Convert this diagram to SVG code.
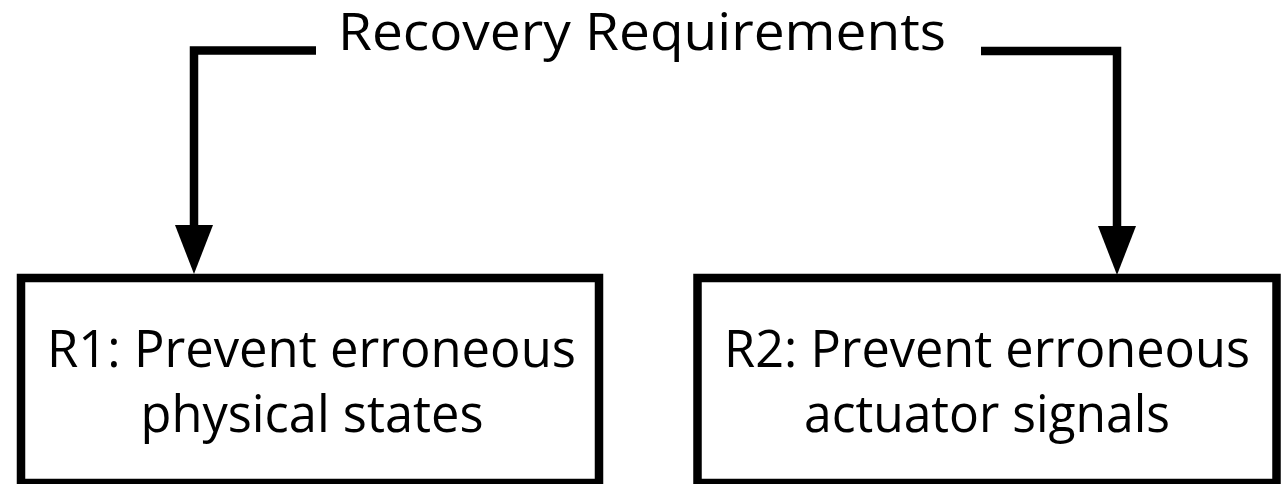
<svg xmlns="http://www.w3.org/2000/svg" width="1281" height="484" viewBox="0 0 1281 484">
<style>
.box{fill:#fff;stroke:#000;stroke-width:8.5}
.con{fill:none;stroke:#000;stroke-width:8.5;stroke-linejoin:miter;stroke-linecap:butt}
.t{font-family:"Open Sans","Noto Sans","Liberation Sans",sans-serif;font-size:51px;fill:#000;text-anchor:middle}
</style>
<defs>
<marker id="ah" markerUnits="userSpaceOnUse" markerWidth="50" markerHeight="40" refX="5" refY="19" orient="auto" viewBox="0 0 50 40">
<path d="M0,0 L49,19 L0,38 Z" fill="#000"/>
</marker>
</defs>
<rect width="1281" height="484" fill="#fff"/>
<g id="title">
<text class="t" x="642" y="50" textLength="608" lengthAdjust="spacingAndGlyphs">Recovery Requirements</text>
</g>
<g id="connectors">
<path class="con" d="M316,50.5 H194 V230" marker-end="url(#ah)"/>
<path class="con" d="M981,51 H1117 V231" marker-end="url(#ah)"/>
</g>
<g id="r1">
<rect class="box" x="21" y="278" width="578" height="205"/>
<text class="t" x="311.5" y="367" textLength="529" lengthAdjust="spacingAndGlyphs">R1: Prevent erroneous</text>
<text class="t" x="312" y="432" textLength="343" lengthAdjust="spacingAndGlyphs">physical states</text>
</g>
<g id="r2">
<rect class="box" x="697.5" y="278" width="579" height="205"/>
<text class="t" x="987" y="367" textLength="526" lengthAdjust="spacingAndGlyphs">R2: Prevent erroneous</text>
<text class="t" x="987" y="432" textLength="366" lengthAdjust="spacingAndGlyphs">actuator signals</text>
</g>
</svg>
